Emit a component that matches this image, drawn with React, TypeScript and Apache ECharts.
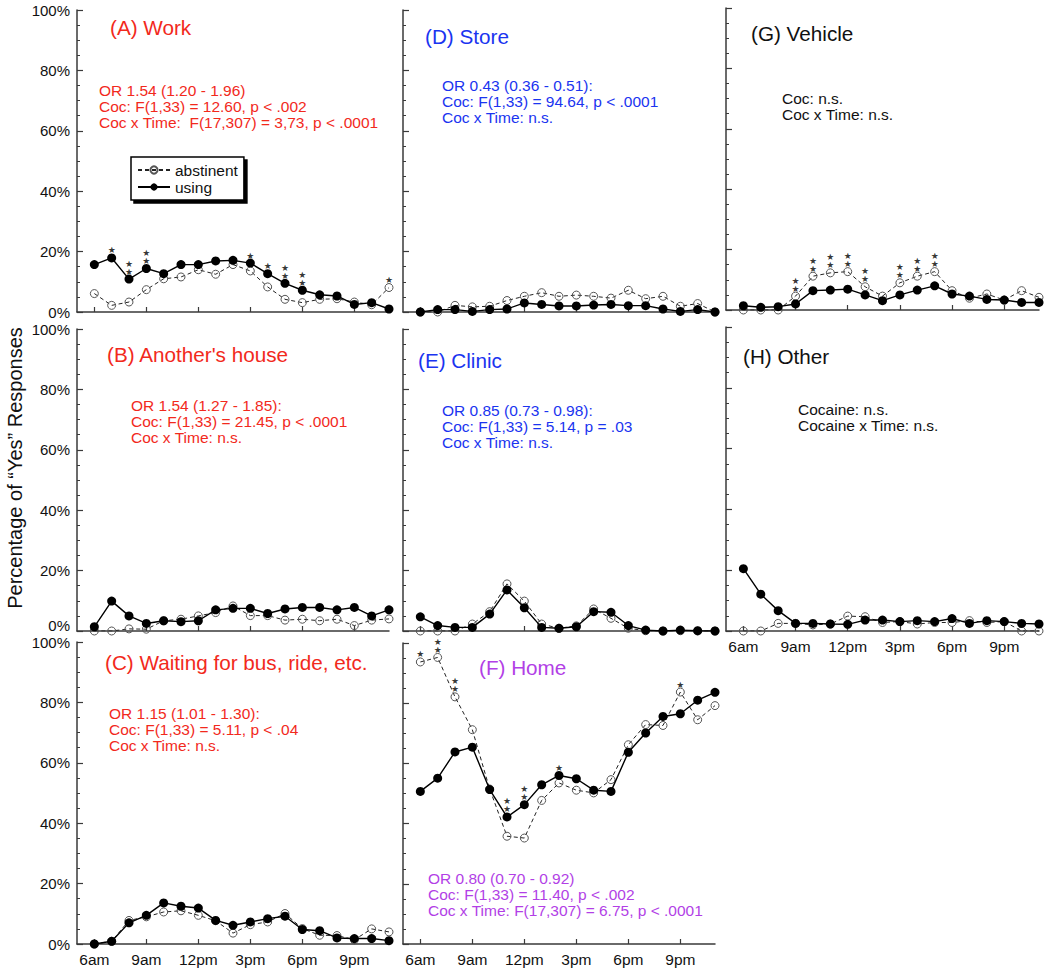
import React, { useEffect, useRef } from "react";
import * as echarts from "echarts";

const hours = [6, 7, 8, 9, 10, 11, 12, 13, 14, 15, 16, 17, 18, 19, 20, 21, 22, 23];
const tickHours = [6, 9, 12, 15, 18, 21];
const tickLabels = ["6am", "9am", "12pm", "3pm", "6pm", "9pm"];

const workUsing = [15.7, 17.9, 10.9, 14.4, 12.7, 15.7, 15.7, 16.9, 17.1, 16.2, 12.7, 9.5, 7.2, 5.7, 5.3, 2.5, 3.1, 1.0];
const workAbst = [6.1, 2.2, 3.3, 7.4, 11.0, 11.6, 14.0, 12.5, 15.7, 13.6, 8.3, 4.2, 3.1, 4.2, 4.4, 3.3, 2.4, 8.1];
const workSig = [0, 1, 2, 2, 0, 0, 0, 0, 0, 1, 1, 2, 2, 0, 0, 0, 0, 1];

const houseUsing = [1.4, 9.9, 5.0, 2.5, 3.4, 3.1, 3.4, 7.0, 7.5, 7.5, 5.8, 7.3, 7.8, 7.8, 7.0, 7.8, 5.0, 7.0];
const houseAbst = [0, 0, 0.7, 0.6, 3.4, 3.9, 5.0, 6.1, 8.3, 5.1, 5.1, 3.6, 3.9, 3.4, 3.9, 1.8, 3.6, 4.0];
const houseSig = [0, 0, 0, 0, 0, 0, 0, 0, 0, 0, 0, 0, 0, 0, 0, 0, 0, 0];

const waitUsing = [0, 0.9, 7.0, 9.5, 13.6, 12.5, 11.9, 7.8, 6.2, 7.3, 8.4, 9.2, 4.8, 4.4, 2.0, 1.8, 1.8, 1.1];
const waitAbst = [0, 0.9, 7.8, 9.0, 10.6, 11.0, 9.5, 7.7, 3.6, 6.4, 7.3, 10.1, 5.1, 2.9, 2.8, 1.4, 5.0, 4.0];
const waitSig = [0, 0, 0, 0, 0, 0, 0, 0, 0, 0, 0, 0, 0, 0, 0, 0, 0, 0];

const storeUsing = [0, 0.8, 0.8, 0.2, 0.8, 1.0, 3.0, 2.5, 2.0, 2.0, 2.3, 2.5, 2.1, 2.1, 1.0, 0.2, 0.8, 0];
const storeAbst = [0, 0, 2.2, 1.7, 1.9, 3.8, 5.2, 6.4, 5.2, 5.6, 5.2, 4.6, 7.2, 4.4, 5.2, 1.9, 2.8, 0];
const storeSig = [0, 0, 0, 0, 0, 0, 0, 0, 0, 0, 0, 0, 0, 0, 0, 0, 0, 0];

const clinicUsing = [4.7, 1.8, 1.2, 1.2, 5.6, 13.6, 7.7, 1.2, 0.9, 1.4, 6.4, 6.2, 1.8, 0.3, 0, 0.3, 0.1, 0];
const clinicAbst = [0, 0, 0, 2.3, 6.4, 15.6, 9.9, 2.3, 0.9, 1.7, 7.3, 4.2, 0.9, 0.1, 0, 0.1, 0, 0];
const clinicSig = [0, 0, 0, 0, 0, 0, 0, 0, 0, 0, 0, 0, 0, 0, 0, 0, 0, 0];

const homeUsing = [50.7, 55.1, 63.8, 65.4, 51.3, 42.2, 46.3, 52.9, 56.0, 54.9, 51.1, 50.7, 63.7, 70.1, 75.6, 76.5, 81.0, 83.6];
const homeAbst = [93.7, 95.2, 82.1, 71.2, 51.5, 35.8, 35.2, 47.7, 53.5, 51.1, 50.2, 54.6, 66.2, 72.9, 72.6, 83.7, 74.5, 79.2];
const homeSig = [1, 2, 2, 0, 0, 2, 2, 0, 1, 0, 0, 0, 0, 0, 0, 1, 0, 0];

const vehicleUsing = [1.4, 0.9, 1.1, 2.0, 6.4, 6.6, 6.9, 5.0, 3.1, 5.0, 6.6, 8.0, 5.3, 4.6, 3.5, 3.3, 2.5, 2.5];
const vehicleAbst = [0, 0, 0, 4.6, 11.2, 12.3, 12.7, 7.7, 4.6, 9.0, 11.2, 12.7, 6.4, 3.9, 5.3, 3.3, 6.4, 4.2];
const vehicleSig = [0, 0, 0, 2, 2, 2, 2, 2, 0, 2, 2, 2, 0, 0, 0, 0, 0, 0];

const otherUsing = [20.5, 12.1, 6.7, 2.5, 2.5, 2.3, 2.2, 3.6, 3.6, 3.1, 3.4, 3.1, 4.1, 2.5, 3.4, 3.1, 2.5, 2.3];
const otherAbst = [0, 0, 2.5, 2.5, 2.0, 2.3, 4.9, 4.7, 2.8, 3.1, 2.3, 2.8, 2.8, 3.4, 2.8, 3.1, 0, 0];
const otherSig = [0, 0, 0, 0, 0, 0, 0, 0, 0, 0, 0, 0, 0, 0, 0, 0, 0, 0];

const RED = "#f2291c";
const BLUE = "#1a34f0";
const PURPLE = "#b23fe6";
const BLACK = "#111111";
const FONT = '"Liberation Sans", Arial, Helvetica, sans-serif';

type Panel = {
  grid: { left: number; top: number; width: number; height: number };
  using: number[];
  abst: number[];
  sig: number[];
  yLabels: boolean;
  minLabelBottom: boolean;
  xLabels: boolean;
  color: string;
  title: string;
  titlePos: [number, number];
  stats: string[];
  statsPos: [number, number];
};

const panels: Panel[] = [
  {
    grid: { left: 77, top: 10, width: 312, height: 302 },
    using: workUsing, abst: workAbst, sig: workSig, yLabels: true, minLabelBottom: false, xLabels: false,
    color: RED, title: "(A) Work", titlePos: [110, 27],
    stats: ["OR 1.54 (1.20 - 1.96)", "Coc: F(1,33) = 12.60, p < .002", "Coc x Time:  F(17,307) = 3,73, p < .0001"],
    statsPos: [99, 90],
  },
  {
    grid: { left: 77, top: 329, width: 312, height: 302 },
    using: houseUsing, abst: houseAbst, sig: houseSig, yLabels: true, minLabelBottom: true, xLabels: false,
    color: RED, title: "(B) Another's house", titlePos: [107, 354],
    stats: ["OR 1.54 (1.27 - 1.85):", "Coc: F(1,33) = 21.45, p < .0001", "Coc x Time: n.s."],
    statsPos: [131, 405],
  },
  {
    grid: { left: 77, top: 642, width: 312, height: 302 },
    using: waitUsing, abst: waitAbst, sig: waitSig, yLabels: true, minLabelBottom: false, xLabels: true,
    color: RED, title: "(C) Waiting for bus, ride, etc.", titlePos: [105, 662],
    stats: ["OR 1.15 (1.01 - 1.30):", "Coc: F(1,33) = 5.11, p < .04", "Coc x Time: n.s."],
    statsPos: [109, 713],
  },
  {
    grid: { left: 403, top: 10, width: 312, height: 302 },
    using: storeUsing, abst: storeAbst, sig: storeSig, yLabels: false, minLabelBottom: false, xLabels: false,
    color: BLUE, title: "(D) Store", titlePos: [425, 36],
    stats: ["OR 0.43 (0.36 - 0.51):", "Coc: F(1,33) = 94.64, p < .0001", "Coc x Time: n.s."],
    statsPos: [442, 85],
  },
  {
    grid: { left: 403, top: 329, width: 312, height: 302 },
    using: clinicUsing, abst: clinicAbst, sig: clinicSig, yLabels: false, minLabelBottom: false, xLabels: false,
    color: BLUE, title: "(E) Clinic", titlePos: [418, 360],
    stats: ["OR 0.85 (0.73 - 0.98):", "Coc: F(1,33) = 5.14, p = .03", "Coc x Time: n.s."],
    statsPos: [442, 410],
  },
  {
    grid: { left: 403, top: 643, width: 312, height: 301 },
    using: homeUsing, abst: homeAbst, sig: homeSig, yLabels: false, minLabelBottom: false, xLabels: true,
    color: PURPLE, title: "(F) Home", titlePos: [479, 667],
    stats: ["OR 0.80 (0.70 - 0.92)", "Coc: F(1,33) = 11.40, p < .002", "Coc x Time: F(17,307) = 6.75, p < .0001"],
    statsPos: [428, 878],
  },
  {
    grid: { left: 726, top: 8, width: 313, height: 302 },
    using: vehicleUsing, abst: vehicleAbst, sig: vehicleSig, yLabels: false, minLabelBottom: false, xLabels: false,
    color: BLACK, title: "(G) Vehicle", titlePos: [751, 33],
    stats: ["Coc: n.s.", "Coc x Time: n.s."],
    statsPos: [782, 98],
  },
  {
    grid: { left: 726, top: 327, width: 313, height: 304 },
    using: otherUsing, abst: otherAbst, sig: otherSig, yLabels: false, minLabelBottom: false, xLabels: true,
    color: BLACK, title: "(H) Other", titlePos: [743, 356],
    stats: ["Cocaine: n.s.", "Cocaine x Time: n.s."],
    statsPos: [798, 409],
  },
];

export default function App() {
  const ref = useRef<HTMLDivElement>(null);

  useEffect(() => {
    if (!ref.current) return;
    const chart = echarts.init(ref.current, undefined, { renderer: "svg" });

    const axisColor = "#3a3a3a";
    const grids: any[] = [];
    const xAxes: any[] = [];
    const yAxes: any[] = [];
    const series: any[] = [];
    const graphics: any[] = [];

    panels.forEach((p, i) => {
      grids.push({ ...p.grid, containLabel: false });
      xAxes.push({
        type: "value",
        gridIndex: i,
        min: 5,
        max: 23,
        axisLine: { show: true, onZero: false, lineStyle: { color: axisColor, width: 1.5 } },
        axisTick: {
          show: true,
          inside: true,
          length: 5,
          customValues: tickHours,
          lineStyle: { color: axisColor, width: 1.2 },
        },
        axisLabel: {
          show: p.xLabels,
          customValues: tickHours,
          margin: 7,
          color: "#111",
          fontSize: 15.5,
          fontFamily: FONT,
          formatter: (v: number) => tickLabels[tickHours.indexOf(v)] ?? "",
        },
        splitLine: { show: false },
      });
      yAxes.push({
        type: "value",
        gridIndex: i,
        min: 0,
        max: 100,
        interval: 20,
        axisLine: { show: true, lineStyle: { color: axisColor, width: 1.5 } },
        axisTick: { show: true, inside: true, length: 6, lineStyle: { color: axisColor, width: 1.2 } },
        minorTick: { show: true, splitNumber: 4, length: 3, lineStyle: { color: axisColor, width: 1 } },
        axisLabel: {
          show: p.yLabels,
          margin: 7,
          color: "#111",
          fontSize: 15,
          lineHeight: 12,
          fontFamily: FONT,
          formatter: "{value}%",
          ...(p.minLabelBottom ? { verticalAlignMinLabel: "bottom" } : {}),
        },
        splitLine: { show: false },
      });

      series.push({
        name: "abstinent",
        type: "line",
        xAxisIndex: i,
        yAxisIndex: i,
        data: hours.map((h, k) => [h, p.abst[k]]),
        symbol: "circle",
        symbolSize: 8,
        lineStyle: { color: "#222", width: 1, type: [4, 3] },
        itemStyle: { color: "rgba(255,255,255,0)", borderColor: "#555", borderWidth: 1 },
        emphasis: { disabled: true },
        z: 2,
      });
      series.push({
        name: "using",
        type: "line",
        xAxisIndex: i,
        yAxisIndex: i,
        data: hours.map((h, k) => [h, p.using[k]]),
        symbol: "circle",
        symbolSize: 9,
        lineStyle: { color: "#000", width: 1.4 },
        itemStyle: { color: "#000" },
        emphasis: { disabled: true },
        z: 3,
      });
      const starData = hours
        .map((h, k) => (p.sig[k] ? [h, Math.max(p.using[k], p.abst[k]), p.sig[k]] : null))
        .filter((d) => d !== null);
      if (starData.length) {
        series.push({
          name: "sig",
          type: "scatter",
          xAxisIndex: i,
          yAxisIndex: i,
          data: starData,
          symbolSize: 1,
          itemStyle: { color: "rgba(0,0,0,0)" },
          silent: true,
          label: {
            show: true,
            position: "top",
            distance: 3,
            color: "#000",
            fontSize: 9,
            lineHeight: 8,
            fontFamily: "DejaVu Sans",
            formatter: (prm: any) => (prm.value[2] === 2 ? "★\n★" : "★"),
          },
          z: 4,
        });
      }

      graphics.push({
        type: "text",
        x: p.titlePos[0],
        y: p.titlePos[1],
        style: {
          text: p.title,
          fill: p.color,
          font: `20.7px ${FONT}`,
          textAlign: "left",
          textVerticalAlign: "middle",
        },
      });
      p.stats.forEach((line, j) => {
        graphics.push({
          type: "text",
          x: p.statsPos[0],
          y: p.statsPos[1] + j * 16.3,
          style: {
            text: line,
            fill: p.color,
            font: `15.5px ${FONT}`,
            textAlign: "left",
            textVerticalAlign: "middle",
          },
        });
      });
    });

    graphics.push({
      type: "text",
      x: 15,
      y: 468,
      rotation: Math.PI / 2,
      style: {
        text: "Percentage of \u201CYes\u201D Responses",
        fill: "#111",
        font: `20px ${FONT}`,
        textAlign: "center",
        textVerticalAlign: "middle",
      },
    });

    chart.setOption({
      animation: false,
      textStyle: { fontFamily: FONT },
      grid: grids,
      xAxis: xAxes,
      yAxis: yAxes,
      series,
      graphic: graphics,
      legend: {
        data: ["abstinent", "using"],
        orient: "vertical",
        left: 131,
        top: 157,
        itemWidth: 32,
        itemHeight: 9,
        itemGap: 1,
        padding: [5, 6, 5, 6],
        backgroundColor: "#fff",
        borderColor: "#000",
        borderWidth: 1.5,
        borderRadius: 0,
        shadowColor: "#000",
        shadowBlur: 0,
        shadowOffsetX: 3,
        shadowOffsetY: 3,
        selectedMode: false,
        textStyle: { fontSize: 15.5, lineHeight: 14, color: "#111", fontFamily: FONT },
      },
    });

    return () => {
      chart.dispose();
    };
  }, []);

  return (
    <div
      ref={ref}
      style={{ position: "absolute", left: 0, top: 0, width: 1050, height: 969, background: "#fff" }}
    />
  );
}
